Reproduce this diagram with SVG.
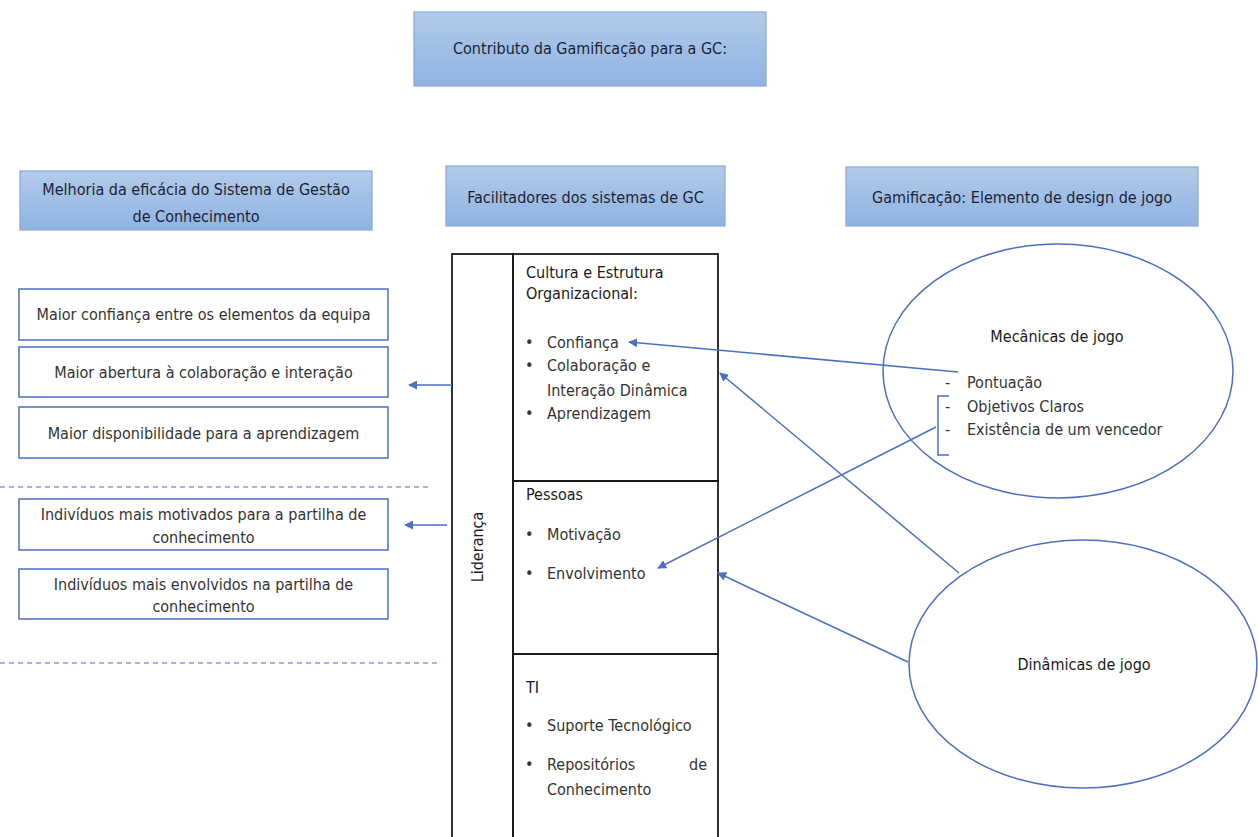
<svg xmlns="http://www.w3.org/2000/svg" width="1258" height="837" viewBox="0 0 1258 837">
  <defs>
    <linearGradient id="hdrFill" x1="0" y1="0" x2="0" y2="1">
      <stop offset="0" stop-color="#b2cbea"/>
      <stop offset="1" stop-color="#8fb3e2"/>
    </linearGradient>
    <marker id="arrow" viewBox="0 0 10 10" refX="9" refY="5" markerWidth="9" markerHeight="9" markerUnits="userSpaceOnUse" orient="auto">
      <path d="M0,0 L10,5 L0,10 z" fill="#4a70c2"/>
    </marker>
    <style>
      text { font-family: "DejaVu Sans Condensed", "Liberation Sans Narrow", "Liberation Sans", sans-serif; }
      .hdr { fill: url(#hdrFill); stroke: #86a8d6; stroke-width: 1.2; }
      .hdr-t { font-size: 16px; fill: #1c1f33; text-anchor: middle; }
      .box { fill: #ffffff; stroke: #4a6fc0; stroke-width: 1.5; }
      .box-t { font-size: 16px; fill: #333333; text-anchor: middle; }
      .cell { fill: none; stroke: #1a1a1a; stroke-width: 1.8; }
      .cell-h { font-size: 16px; fill: #1a1a1a; }
      .item { font-size: 16px; fill: #333333; }
      .oval { fill: #ffffff; stroke: #4a6fc0; stroke-width: 1.5; }
      .oval-t { font-size: 16px; fill: #1a1a1a; text-anchor: middle; }
      .link { fill: none; stroke: #4a70c2; stroke-width: 1.5; }
      .dash { fill: none; stroke: #4a70c2; stroke-width: 1; stroke-dasharray: 5 4; }
    </style>
  </defs>

  <rect width="1258" height="837" fill="#ffffff"/>

  <!-- title -->
  <g id="title">
    <rect class="hdr" x="414" y="12" width="352" height="74"/>
    <text class="hdr-t" x="590" y="54">Contributo da Gamificação para a GC:</text>
  </g>

  <!-- column headers -->
  <g id="hdr-melhoria">
    <rect class="hdr" x="20" y="171" width="352" height="59"/>
    <text class="hdr-t" x="196" y="195">Melhoria da eficácia do Sistema de Gestão</text>
    <text class="hdr-t" x="196" y="222">de Conhecimento</text>
  </g>
  <g id="hdr-facilitadores">
    <rect class="hdr" x="446" y="166" width="279" height="60"/>
    <text class="hdr-t" x="585.500" y="203">Facilitadores dos sistemas de GC</text>
  </g>
  <g id="hdr-gamificacao">
    <rect class="hdr" x="846" y="167" width="352" height="59"/>
    <text class="hdr-t" x="1022" y="203">Gamificação: Elemento de design de jogo</text>
  </g>

  <!-- separators -->
  <g id="separators">
    <line class="dash" x1="0" y1="487" x2="430" y2="487"/>
    <line class="dash" x1="0" y1="663" x2="440" y2="663"/>
  </g>

  <!-- outcome boxes -->
  <g id="out-confianca">
    <rect class="box" x="19" y="289" width="369" height="51"/>
    <text class="box-t" x="203.500" y="320">Maior confiança entre os elementos da equipa</text>
  </g>
  <g id="out-colaboracao">
    <rect class="box" x="19" y="347" width="369" height="50"/>
    <text class="box-t" x="203.500" y="378">Maior abertura à colaboração e interação</text>
  </g>
  <g id="out-aprendizagem">
    <rect class="box" x="19" y="407" width="369" height="51"/>
    <text class="box-t" x="203.500" y="439">Maior disponibilidade para a aprendizagem</text>
  </g>
  <g id="out-motivados">
    <rect class="box" x="19" y="499" width="369" height="51"/>
    <text class="box-t" x="203.500" y="520">Indivíduos mais motivados para a partilha de</text>
    <text class="box-t" x="203.500" y="543">conhecimento</text>
  </g>
  <g id="out-envolvidos">
    <rect class="box" x="19" y="569" width="369" height="50"/>
    <text class="box-t" x="203.500" y="590">Indivíduos mais envolvidos na partilha de</text>
    <text class="box-t" x="203.500" y="612">conhecimento</text>
  </g>

  <!-- facilitators table -->
  <g id="lideranca">
    <rect class="cell" x="452" y="254" width="61" height="600"/>
    <text class="cell-h" x="0" y="0" text-anchor="middle" transform="translate(483 547) rotate(-90)">Liderança</text>
  </g>
  <g id="cultura">
    <rect class="cell" x="513" y="254" width="205" height="227"/>
    <text class="cell-h" x="526" y="278">Cultura e Estrutura</text>
    <text class="cell-h" x="526" y="299">Organizacional:</text>
    <text class="item" x="525" y="348">•</text>
    <text class="item" x="547" y="348">Confiança</text>
    <text class="item" x="525" y="371">•</text>
    <text class="item" x="547" y="371">Colaboração e</text>
    <text class="item" x="547" y="396">Interação Dinâmica</text>
    <text class="item" x="525" y="419">•</text>
    <text class="item" x="547" y="419">Aprendizagem</text>
  </g>
  <g id="pessoas">
    <rect class="cell" x="513" y="481" width="205" height="173"/>
    <text class="cell-h" x="526" y="500">Pessoas</text>
    <text class="item" x="525" y="540">•</text>
    <text class="item" x="547" y="540">Motivação</text>
    <text class="item" x="525" y="579">•</text>
    <text class="item" x="547" y="579">Envolvimento</text>
  </g>
  <g id="ti">
    <rect class="cell" x="513" y="654" width="205" height="200"/>
    <text class="cell-h" x="526" y="693">TI</text>
    <text class="item" x="525" y="731">•</text>
    <text class="item" x="547" y="731">Suporte Tecnológico</text>
    <text class="item" x="525" y="770">•</text>
    <text class="item" x="547" y="770">Repositórios</text>
    <text class="item" x="707" y="770" text-anchor="end">de</text>
    <text class="item" x="547" y="795">Conhecimento</text>
  </g>

  <!-- game elements -->
  <g id="mecanicas">
    <ellipse class="oval" cx="1058" cy="371" rx="175" ry="127"/>
    <text class="oval-t" x="1057" y="342">Mecânicas de jogo</text>
    <text class="item" x="945" y="388">-</text>
    <text class="item" x="967" y="388">Pontuação</text>
    <text class="item" x="945" y="412">-</text>
    <text class="item" x="967" y="412">Objetivos Claros</text>
    <text class="item" x="945" y="435">-</text>
    <text class="item" x="967" y="435">Existência de um vencedor</text>
    <path class="link" d="M949,396 H938 V455 H949"/>
  </g>
  <g id="dinamicas">
    <ellipse class="oval" cx="1083" cy="664" rx="174" ry="124"/>
    <text class="oval-t" x="1084" y="670">Dinâmicas de jogo</text>
  </g>

  <!-- connectors -->
  <g id="connectors">
    <line class="link" x1="452" y1="385" x2="409" y2="385" marker-end="url(#arrow)"/>
    <line class="link" x1="447" y1="525" x2="405" y2="525" marker-end="url(#arrow)"/>
    <line class="link" x1="958" y1="372" x2="629" y2="342" marker-end="url(#arrow)"/>
    <line class="link" x1="959" y1="573" x2="720" y2="373" marker-end="url(#arrow)"/>
    <line class="link" x1="936" y1="427" x2="658" y2="568" marker-end="url(#arrow)"/>
    <line class="link" x1="908" y1="662" x2="718" y2="573" marker-end="url(#arrow)"/>
  </g>
</svg>
